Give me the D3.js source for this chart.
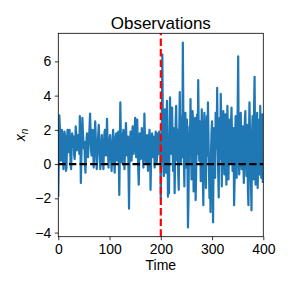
<!DOCTYPE html>
<html><head><meta charset="utf-8">
<script src="https://cdn.jsdelivr.net/npm/d3@7/dist/d3.min.js"></script>
<style>html,body{margin:0;padding:0;background:#fff;}svg{display:block;font-family:"Liberation Sans",Arial,sans-serif;}</style>
</head><body>
<script>
const values1 = [
-1.9,0.5,2.85,2.2,1.0,0.2,1.4,2.0,1.6,0.4,-0.3,0.8,1.9,1.7,0.6,-0.4,-0.2,1.2,2.0,1.5,
0.7,1.9,2.0,1.1,0.0,-0.3,0.9,1.8,1.5,1.0,1.6,0.5,0.3,1.2,2.2,1.8,0.8,0.9,1.5,1.7,
1.0,0.6,2.8,1.6,-1.1,0.4,1.5,2.7,1.9,1.2,0.9,1.3,0.1,-0.5,0.6,1.4,1.8,1.2,0.4,1.0,
1.6,2.2,2.95,1.9,0.8,0.5,1.3,2.0,1.1,-0.2,0.4,1.7,2.5,1.6,0.9,-0.3,0.2,1.0,1.8,2.3,
1.4,0.6,-0.3,0.3,1.2,1.7,1.0,0.2,-0.3,0.8,1.8,2.0,1.3,0.5,1.1,2.65,1.6,0.8,-0.2,0.4,
1.3,1.7,1.0,0.3,-0.4,0.6,1.5,2.0,1.2,0.1,-0.5,0.7,1.6,1.8,0.9,0.2,1.1,1.9,0.4,-1.8,
0.5,3.6,1.8,0.9,0.1,0.8,1.6,2.0,1.0,-0.3,0.6,1.5,2.4,1.4,0.5,1.2,1.6,-0.4,-2.6,0.3,
1.3,1.9,0.7,0.2,1.0,2.2,1.4,0.6,1.2,2.0,2.7,1.5,0.4,0.8,2.6,1.2,-0.3,-1.2,0.5,1.8,
1.0,0.3,1.1,2.1,1.3,0.7,-0.2,0.8,2.95,1.6,0.6,0.1,1.0,1.7,0.8,-0.4,0.5,1.5,2.0,1.2,
-1.5,0.2,1.3,1.8,1.0,0.4,1.6,1.1,-0.2,0.7,1.9,1.4,0.1,0.5,1.8,1.2,0.6,1.9,1.4,0.9
];
const values2 = [
-2.0,0.6,2.2,6.4,2.5,0.3,-0.7,1.6,3.2,2.0,-0.5,1.4,3.7,0.9,-1.9,0.8,-1.7,1.5,3.9,1.8,
0.6,2.7,3.3,1.0,-0.4,2.1,1.2,-1.7,0.5,2.5,3.4,1.4,0.2,2.0,-0.6,-1.5,1.8,4.2,1.6,0.1,
1.5,2.8,0.4,7.1,3.0,0.4,-1.3,1.9,3.0,1.2,-0.2,2.6,0.5,-3.7,-2.1,0.8,2.2,1.5,3.8,0.9,
-0.9,1.2,3.1,2.4,-1.6,0.3,1.9,2.7,-2.1,-0.4,1.4,2.9,0.6,4.9,1.8,0.2,2.5,1.0,-1.0,1.5,
3.2,0.9,-0.7,-2.4,1.7,3.0,2.2,0.1,-1.4,1.2,2.8,0.5,3.6,1.6,-0.3,-2.0,0.4,-2.8,0.8,1.9,
2.5,-1.1,-3.4,0.6,2.1,1.3,-0.8,3.0,1.8,0.9,4.45,1.0,-0.5,-1.95,1.5,2.7,0.3,4.1,2.2,-1.3,
0.7,2.4,3.1,1.0,-0.6,1.7,2.9,0.4,-1.2,2.0,3.4,1.6,-0.9,0.8,2.6,1.2,0.1,2.3,3.3,1.4,
-0.4,0.2,2.1,-2.4,-1.0,1.5,2.8,0.6,-0.8,1.9,3.2,6.3,1.1,-0.6,0.3,2.4,3.0,0.9,-0.3,1.7,
2.2,0.4,-1.1,1.3,2.6,3.1,1.0,-0.7,0.8,2.3,-1.5,-2.4,1.4,3.6,2.0,0.2,-1.2,-2.7,1.6,2.8,
0.5,-0.9,3.3,5.1,1.2,-1.2,0.7,2.5,3.0,-1.4,0.3,1.8,2.6,-0.6,3.4,1.1,-0.8,0.4,2.9,-1.1
];
const series = values1.concat(values2);
const xTicks = [0,100,200,300,400];
const yTicks = [-4,-2,0,2,4,6];
const changePoint = 200;
const baseline = 0;
const titleText = "Observations";
const xLabel = "Time";

const W = 291, H = 291;
const m = {left:58.3, right:263.3, top:33.3, bottom:236.7};
const svg = d3.select("body").append("svg").attr("width",W).attr("height",H);

const x = d3.scaleLinear().domain([0,400]).range([m.left,m.right]);
const y = d3.scaleLinear().domain([-4.24,7.64]).range([m.bottom,m.top]);

svg.append("defs").append("clipPath").attr("id","clip")
  .append("rect").attr("x",m.left).attr("y",m.top).attr("width",m.right-m.left).attr("height",m.bottom-m.top);

const plot = svg.append("g").attr("clip-path","url(#clip)");
const line = d3.line().x((d,i)=>x(i)).y(d=>y(d));
plot.append("path").datum(series).attr("d",line)
  .attr("fill","none").attr("stroke","#1f77b4").attr("stroke-width",2.2).attr("stroke-linejoin","round");

plot.append("line").attr("x1",x(0)).attr("x2",x(400)).attr("y1",y(baseline)).attr("y2",y(baseline))
  .attr("stroke","#000").attr("stroke-width",2.2).attr("stroke-dasharray","7.4,3.2");
plot.append("line").attr("x1",x(changePoint)).attr("x2",x(changePoint)).attr("y1",m.bottom).attr("y2",m.top)
  .attr("stroke","#ff0000").attr("stroke-width",2.2).attr("stroke-dasharray","7.4,3.2");

const fmt = d => d<0 ? "\u2212"+Math.abs(d) : String(d);
const xAxis = svg.append("g").attr("transform",`translate(0,${m.bottom})`)
  .call(d3.axisBottom(x).tickValues(xTicks).tickFormat(fmt).tickSize(3.5).tickPadding(3.5));
const yAxis = svg.append("g").attr("transform",`translate(${m.left},0)`)
  .call(d3.axisLeft(y).tickValues(yTicks).tickFormat(fmt).tickSize(3.5).tickPadding(3.5));
[xAxis,yAxis].forEach(a=>{
  a.select(".domain").remove();
  a.selectAll("line").attr("stroke","#000").attr("stroke-width",0.8);
  a.selectAll("text").attr("font-size",14).attr("fill","#000").attr("font-family","Liberation Sans, Arial, sans-serif");
});

svg.append("rect").attr("x",m.left).attr("y",m.top).attr("width",m.right-m.left).attr("height",m.bottom-m.top)
  .attr("fill","none").attr("stroke","#000").attr("stroke-width",0.8);

svg.append("text").attr("x",(m.left+m.right)/2).attr("y",29.3).attr("text-anchor","middle")
  .attr("font-size",17).attr("fill","#000").text(titleText);
svg.append("text").attr("x",(m.left+m.right)/2).attr("y",269.5).attr("text-anchor","middle")
  .attr("font-size",14).attr("fill","#000").text(xLabel);
const yl = svg.append("text").attr("transform",`translate(25,${(m.top+m.bottom)/2}) rotate(-90)`)
  .attr("text-anchor","middle").attr("font-size",14).attr("fill","#000");
yl.append("tspan").attr("font-style","italic").text("x");
yl.append("tspan").attr("font-style","italic").attr("font-size",10).attr("dy",3).text("n");
</script>
</body></html>
